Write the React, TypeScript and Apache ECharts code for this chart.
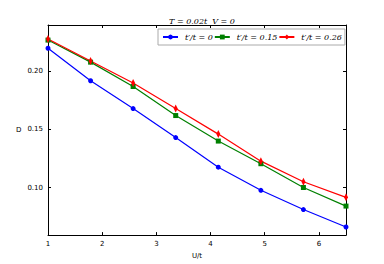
import React, { useEffect, useRef } from "react";
import * as echarts from "echarts";

const xValues = [1, 1.786, 2.571, 3.357, 4.143, 4.929, 5.714, 6.5];
const seriesNames = ["t′/t = 0", "t′/t = 0.15", "t′/t = 0.26"];
const blue = [0.22, 0.192, 0.168, 0.143, 0.1175, 0.0976, 0.081, 0.066];
const green = [0.227, 0.208, 0.187, 0.162, 0.14, 0.1205, 0.1, 0.084];
const red = [0.228, 0.209, 0.19, 0.168, 0.146, 0.1227, 0.105, 0.0915];
const xTicks = [1, 2, 3, 4, 5, 6];
const yTicks = [0.1, 0.15, 0.2];

export default function App() {
  const ref = useRef<HTMLDivElement>(null);
  useEffect(() => {
    const chart = echarts.init(ref.current!, null, { renderer: "svg" });
    const mk = (vals: number[]) => xValues.map((x, i) => [x, vals[i]]);
    const axisLine = { show: true, onZero: false, lineStyle: { color: "#000", width: 1 } };
    const tick = { show: true, inside: true, length: 3, lineStyle: { color: "#000" } };
    const xBase = {
      type: "value" as const,
      min: 1,
      max: 6.5,
      interval: 1,
      splitLine: { show: false },
      axisLine,
      axisTick: tick,
    };
    const yBase = {
      type: "value" as const,
      min: 0.059,
      max: 0.24,
      splitLine: { show: false },
      axisLine,
      axisTick: { ...tick, customValues: yTicks },
    };
    chart.setOption({
      animation: false,
      backgroundColor: "#fff",
      title: {
        text: "T = 0.02t  V = 0",
        left: 197,
        top: 12,
        textAlign: "center",
        textStyle: { fontFamily: "DejaVu Serif", fontStyle: "italic", fontWeight: "normal", fontSize: 8, color: "#000" },
      },
      legend: {
        left: 158,
        top: 29,
        data: seriesNames,
        itemWidth: 15,
        itemHeight: 6,
        itemGap: 1,
        padding: [4, 3, 4, 4],
        borderColor: "#aaa",
        borderWidth: 1,
        borderRadius: 0,
        backgroundColor: "#fff",
        textStyle: { fontFamily: "DejaVu Serif", fontStyle: "italic", fontSize: 8, color: "#000", padding: [0, 0, 0, 2] },
      },
      grid: { left: 48, right: 38, top: 25, bottom: 27, containLabel: false },
      xAxis: [
        {
          ...xBase,
          position: "bottom",
          name: "U/t",
          nameLocation: "middle",
          nameGap: 13,
          nameTextStyle: { fontFamily: "DejaVu Sans", fontSize: 7, color: "#000" },
          axisLabel: { fontFamily: "DejaVu Sans", fontSize: 7, color: "#000", margin: 5, customValues: xTicks },
          axisTick: { ...tick, customValues: xTicks },
        },
        {
          ...xBase,
          position: "top",
          axisLabel: { show: false },
          axisTick: { ...tick, customValues: xTicks },
        },
      ],
      yAxis: [
        {
          ...yBase,
          position: "left",
          name: "D",
          nameLocation: "middle",
          nameGap: 16,
          nameRotate: 0,
          nameTextStyle: { fontFamily: "DejaVu Sans", fontSize: 7, color: "#000", padding: [0, 0, 6, 0] },
          axisLabel: {
            fontFamily: "DejaVu Sans",
            fontSize: 7,
            color: "#000",
            margin: 5,
            customValues: yTicks,
            formatter: (v: number) => v.toFixed(2),
          },
        },
        {
          ...yBase,
          position: "right",
          axisLabel: { show: false },
        },
      ],
      series: [
        {
          name: seriesNames[0],
          type: "line",
          data: mk(blue),
          color: "#0000ff",
          symbol: "circle",
          symbolSize: 5,
          lineStyle: { width: 1.2 },
          clip: false,
        },
        {
          name: seriesNames[1],
          type: "line",
          data: mk(green),
          color: "#008000",
          symbol: "rect",
          symbolSize: 5,
          lineStyle: { width: 1.2 },
          clip: false,
        },
        {
          name: seriesNames[2],
          type: "line",
          data: mk(red),
          color: "#ff0000",
          symbol: "diamond",
          symbolSize: [4, 8],
          lineStyle: { width: 1.2 },
          clip: false,
        },
      ],
    });
    return () => chart.dispose();
  }, []);
  return <div ref={ref} style={{ width: 384, height: 264, position: "absolute", left: 0, top: 0 }} />;
}
